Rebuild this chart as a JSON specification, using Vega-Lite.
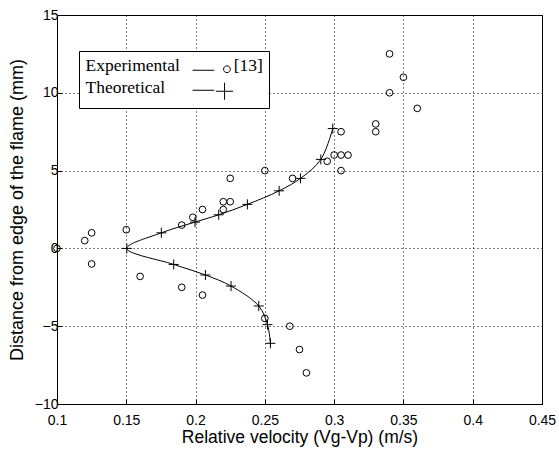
{
  "$schema": "https://vega.github.io/schema/vega-lite/v6.json",
  "width": 485,
  "height": 389,
  "autosize": {"type": "none"},
  "padding": {"left": 57, "top": 15, "right": 17, "bottom": 48},
  "background": "white",
  "config": {
    "view": {"stroke": "black", "strokeWidth": 1},
    "axis": {
      "domainColor": "black",
      "tickColor": "black",
      "gridColor": "black",
      "gridDash": [1, 3],
      "gridOpacity": 1,
      "gridWidth": 1,
      "labelColor": "black",
      "labelFont": "Liberation Sans",
      "labelFontSize": 14,
      "titleFont": "Liberation Sans",
      "titleFontWeight": "normal",
      "titleColor": "black",
      "tickSize": -5,
      "labelFlush": false,
      "labelOverlap": false,
      "labelBound": false
    }
  },
  "data": {
    "values": [
      {"series": "Experimental", "x": 0.34, "y": 12.5, "i": 0},
      {"series": "Experimental", "x": 0.35, "y": 11, "i": 0},
      {"series": "Experimental", "x": 0.34, "y": 10, "i": 0},
      {"series": "Experimental", "x": 0.36, "y": 9, "i": 0},
      {"series": "Experimental", "x": 0.33, "y": 8, "i": 0},
      {"series": "Experimental", "x": 0.33, "y": 7.5, "i": 0},
      {"series": "Experimental", "x": 0.305, "y": 7.5, "i": 0},
      {"series": "Experimental", "x": 0.3, "y": 6, "i": 0},
      {"series": "Experimental", "x": 0.305, "y": 6, "i": 0},
      {"series": "Experimental", "x": 0.31, "y": 6, "i": 0},
      {"series": "Experimental", "x": 0.295, "y": 5.6, "i": 0},
      {"series": "Experimental", "x": 0.305, "y": 5, "i": 0},
      {"series": "Experimental", "x": 0.25, "y": 5, "i": 0},
      {"series": "Experimental", "x": 0.27, "y": 4.5, "i": 0},
      {"series": "Experimental", "x": 0.225, "y": 4.5, "i": 0},
      {"series": "Experimental", "x": 0.22, "y": 3, "i": 0},
      {"series": "Experimental", "x": 0.225, "y": 3, "i": 0},
      {"series": "Experimental", "x": 0.22, "y": 2.5, "i": 0},
      {"series": "Experimental", "x": 0.205, "y": 2.5, "i": 0},
      {"series": "Experimental", "x": 0.198, "y": 2, "i": 0},
      {"series": "Experimental", "x": 0.19, "y": 1.5, "i": 0},
      {"series": "Experimental", "x": 0.15, "y": 1.2, "i": 0},
      {"series": "Experimental", "x": 0.125, "y": 1, "i": 0},
      {"series": "Experimental", "x": 0.12, "y": 0.5, "i": 0},
      {"series": "Experimental", "x": 0.1, "y": 0, "i": 0},
      {"series": "Experimental", "x": 0.125, "y": -1, "i": 0},
      {"series": "Experimental", "x": 0.16, "y": -1.8, "i": 0},
      {"series": "Experimental", "x": 0.19, "y": -2.5, "i": 0},
      {"series": "Experimental", "x": 0.205, "y": -3, "i": 0},
      {"series": "Experimental", "x": 0.25, "y": -4.5, "i": 0},
      {"series": "Experimental", "x": 0.268, "y": -5, "i": 0},
      {"series": "Experimental", "x": 0.275, "y": -6.5, "i": 0},
      {"series": "Experimental", "x": 0.28, "y": -8, "i": 0},
      {"series": "Theoretical", "x": 0.299, "y": 7.7, "i": 1},
      {"series": "Theoretical", "x": 0.2904, "y": 5.72, "i": 2},
      {"series": "Theoretical", "x": 0.2757, "y": 4.5, "i": 3},
      {"series": "Theoretical", "x": 0.2603, "y": 3.7, "i": 4},
      {"series": "Theoretical", "x": 0.2374, "y": 2.83, "i": 5},
      {"series": "Theoretical", "x": 0.2167, "y": 2.16, "i": 6},
      {"series": "Theoretical", "x": 0.1996, "y": 1.69, "i": 7},
      {"series": "Theoretical", "x": 0.1753, "y": 1.0, "i": 8},
      {"series": "Theoretical", "x": 0.1504, "y": 0, "i": 9},
      {"series": "Theoretical", "x": 0.1842, "y": -1.03, "i": 10},
      {"series": "Theoretical", "x": 0.2071, "y": -1.71, "i": 11},
      {"series": "Theoretical", "x": 0.2256, "y": -2.42, "i": 12},
      {"series": "Theoretical", "x": 0.2456, "y": -3.7, "i": 13},
      {"series": "Theoretical", "x": 0.2519, "y": -4.9, "i": 14},
      {"series": "Theoretical", "x": 0.254, "y": -6.1, "i": 15}
    ]
  },
  "encoding": {
    "x": {
      "field": "x",
      "type": "quantitative",
      "scale": {"domain": [0.1, 0.45], "nice": false, "zero": false},
      "axis": {
        "title": "Relative velocity (Vg-Vp) (m/s)",
        "titleFontSize": 17.5,
        "values": [0.1, 0.15, 0.2, 0.25, 0.3, 0.35, 0.4, 0.45],
        "format": ".2~f",
        "labelPadding": 14,
        "titlePadding": 1
      }
    },
    "y": {
      "field": "y",
      "type": "quantitative",
      "scale": {"domain": [-10, 15], "nice": false, "zero": false},
      "axis": {
        "title": "Distance from edge of the flame (mm)",
        "titleFontSize": 18,
        "values": [-10, -5, 0, 5, 10, 15],
        "labelPadding": 4,
        "titlePadding": 8
      }
    }
  },
  "layer": [
    {
      "transform": [{"filter": "datum.series === 'Theoretical'"}],
      "mark": {"type": "line", "interpolate": "catmull-rom", "color": "black", "strokeWidth": 1},
      "encoding": {"order": {"field": "i", "type": "quantitative"}}
    },
    {
      "mark": {"type": "point", "filled": false, "stroke": "black", "strokeWidth": 1, "opacity": 0, "size": 4},
      "encoding": {
        "shape": {
          "field": "series",
          "type": "nominal",
          "scale": {
            "domain": ["Experimental", "Theoretical"],
            "range": [
              "M98.8,4.5H120.5M129.8,3.5A3.4 3.4 0 1 0 136.6 3.5A3.4 3.4 0 1 0 129.8 3.5",
              "M98.8,2.5H120.5M122.3,3.5H139.3M130.8,-5V12"
            ]
          },
          "legend": {
            "orient": "none",
            "legendX": 22,
            "legendY": 36,
            "title": null,
            "padding": 6,
            "strokeColor": "black",
            "fillColor": "white",
            "labelFont": "Liberation Serif",
            "labelFontSize": 17.5,
            "labelColor": "black",
            "labelOffset": -17,
            "symbolSize": 4,
            "symbolOpacity": 1,
            "symbolStrokeColor": "black",
            "symbolFillColor": "transparent",
            "symbolStrokeWidth": 1,
            "rowPadding": 3,
            "labelLimit": 400,
            "labelExpr": "datum.label == 'Experimental' ? 'Experimental\u00a0\u00a0\u00a0\u00a0\u00a0\u00a0\u00a0\u00a0\u00a0\u00a0\u00a0\u00a0\u200a[13]' : datum.label"
          }
        }
      }
    },
    {
      "transform": [{"filter": "datum.series === 'Experimental'"}],
      "mark": {"type": "point", "shape": "circle", "size": 45, "filled": false, "stroke": "black", "strokeWidth": 1, "opacity": 1, "clip": false}
    },
    {
      "transform": [{"filter": "datum.series === 'Theoretical'"}],
      "mark": {"type": "point", "shape": "M-1,0H1M0,-1V1", "size": 100, "filled": false, "stroke": "black", "strokeWidth": 1, "opacity": 1}
    }
  ]
}
